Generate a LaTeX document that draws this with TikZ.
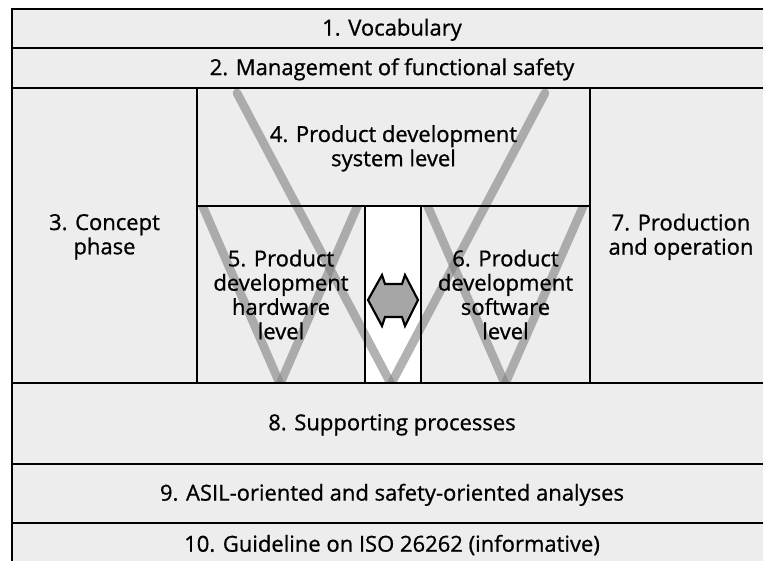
\documentclass[tikz,border=0pt]{standalone}
\usepackage{fontspec}
\setmainfont{Open Sans}[FakeBold=0.9]
\usetikzlibrary{fit}
\pgfdeclarelayer{background}
\pgfdeclarelayer{vlayer}
\pgfsetlayers{background,vlayer,main}
\definecolor{boxfill}{HTML}{EDEDED}
\definecolor{vgray}{HTML}{808080}
\definecolor{arrowfill}{HTML}{A6A6A6}
\begin{document}
\begin{tikzpicture}[x=0.75pt,y=-0.75pt,
  box/.style={draw=black,line width=2pt,inner sep=0pt},
  lbl/.style={inner sep=0pt,align=center,text=black,font=\fontsize{16.5}{18.2}\selectfont},
  vline/.style={draw=vgray,opacity=0.6,line width=6.5pt,line cap=round},
  darrow/.style={fill=arrowfill,draw=black,line width=1.6pt,line join=miter}]
\useasboundingbox (0,0) rectangle (763,560);
\clip (0,0) rectangle (763,560);
% boxes
\node[box,fit={(12,9)(772,48)}] (voc) {};
\node[box,fit={(12,48)(772,88)}] (man) {};
\node[box,fit={(12,88)(197,383)}] (con) {};
\node[box,fit={(197,88)(590,206)}] (sys) {};
\node[box,fit={(197,206)(365,383)}] (hw) {};
\node[box,fit={(365,206)(421,383)}] (mid) {};
\node[box,fit={(421,206)(590,383)}] (sw) {};
\node[box,fit={(590,88)(772,383)}] (prod) {};
\node[box,fit={(12,383)(772,464)}] (sup) {};
\node[box,fit={(12,464)(772,523)}] (asil) {};
\node[box,fit={(12,523)(772,563)}] (guide) {};
% labels
\node[lbl] (vocT) at ([yshift=-1pt]voc.center) {1. Vocabulary};
\node[lbl] (manT) at ([yshift=-1pt]man.center) {2. Management of functional safety};
\node[lbl] (conT) at ([yshift=-1pt]con.center) {3. Concept\\phase};
\node[lbl] (sysT) at ([yshift=-1pt]sys.center) {4. Product development\\system level};
\node[lbl] (hwT) at (hw.center) {5. Product\\development\\hardware\\level};
\node[lbl] (swT) at (sw.center) {6. Product\\development\\software\\level};
\node[lbl] (prodT) at ([yshift=-1pt]prod.center) {7. Production\\and operation};
\node[lbl] (supT) at ([yshift=-1pt]sup.center) {8. Supporting processes};
\node[lbl] (asilT) at ([yshift=-1pt]asil.center) {9. ASIL-oriented and safety-oriented analyses};
\node[lbl] (guideT) at ([yshift=-1.5pt]guide.center) {10. Guideline on ISO 26262 (informative)};
% fills
\begin{pgfonlayer}{background}
  \foreach \n in {voc,man,con,sys,hw,sw,prod,sup,asil,guide}
    \fill[boxfill] (\n.north west) rectangle (\n.south east);
  \fill[white] (mid.north west) rectangle (mid.south east);
\end{pgfonlayer}
% V lines
\begin{pgfonlayer}{vlayer}
  \begin{scope}
    \clip (12,88) rectangle (772,382);
    \draw[vline] (237,93) -- (391,384);
    \draw[vline] (545,93) -- (391,384);
  \end{scope}
  \begin{scope}
    \clip (197,207) rectangle (590,382);
    \draw[vline,line cap=butt] (200,200) -- (280,384);
    \draw[vline,line cap=butt] (360,200) -- (280,384);
    \draw[vline,line cap=butt] (425,200) -- (505,384);
    \draw[vline,line cap=butt] (586,200) -- (505,384);
  \end{scope}
\end{pgfonlayer}
% double arrow
\draw[darrow] (368,300) -- (382,275) -- (385,284) -- (402,284) -- (405,275) -- (418,300)
  -- (405,326) -- (402,317) -- (385,317) -- (382,326) -- cycle;
\end{tikzpicture}
\end{document}
